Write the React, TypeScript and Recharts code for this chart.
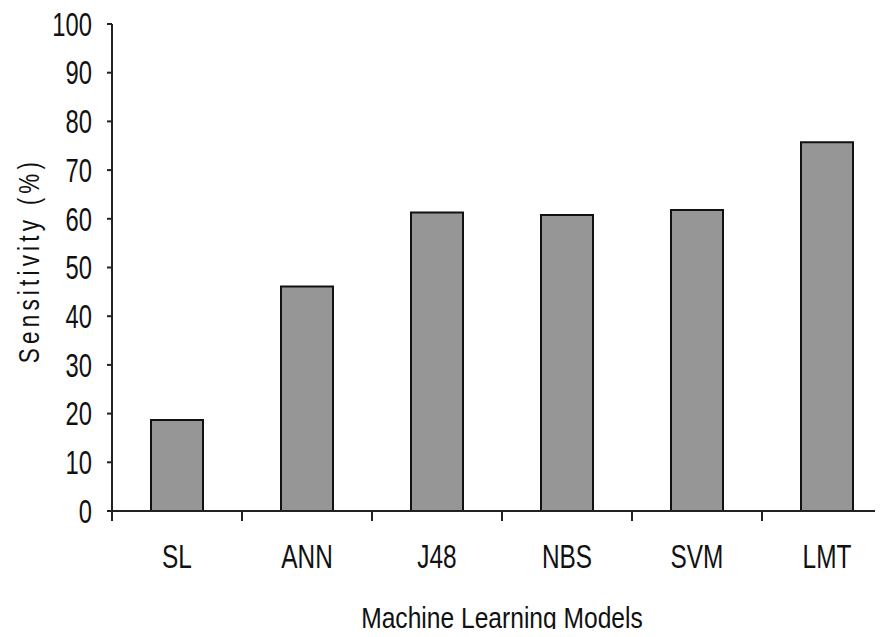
import React from 'react';
import { BarChart, Bar, XAxis, YAxis } from 'recharts';

const models = ['SL', 'ANN', 'J48', 'NBS', 'SVM', 'LMT'];
const sensitivity = [18.7, 46.1, 61.3, 60.8, 61.8, 75.7];
const yTicks = [0, 10, 20, 30, 40, 50, 60, 70, 80, 90, 100];

const data = models.map((name, i) => ({ name, sensitivity: sensitivity[i] }));

// no narrow font installed, so squeeze Liberation Sans horizontally
const FONT = '"Liberation Sans", Arial, sans-serif';
const X_TICK_SIZE = 10;
const X_TICK_MARGIN = 24;

function NarrowText({ x, y, anchor, size, squeeze, children, dy, spacing }: any) {
  return (
    <g transform={`translate(${x}, ${y}) scale(${squeeze}, 1)`}>
      <text
        x={0}
        y={0}
        dy={dy}
        textAnchor={anchor}
        fill="#111"
        fontSize={size}
        fontFamily={FONT}
        letterSpacing={spacing}
      >
        {children}
      </text>
    </g>
  );
}

function CategoryTick(props: any) {
  const { x, y, payload } = props;
  const half = payload.offset || 0;
  const axisY = y - X_TICK_MARGIN - X_TICK_SIZE;
  return (
    <g>
      <line x1={x - half} x2={x - half} y1={axisY} y2={axisY + X_TICK_SIZE} stroke="#222" strokeWidth={2} />
      <NarrowText x={x} y={y} dy="0.71em" anchor="middle" size={33} squeeze={0.74}>
        {payload.value}
      </NarrowText>
    </g>
  );
}

function ValueTick(props: any) {
  const { x, y, payload } = props;
  return (
    <NarrowText x={x} y={y} dy="0.355em" anchor="end" size={33} squeeze={0.72}>
      {payload.value}
    </NarrowText>
  );
}

function YTitle(props: any) {
  const { viewBox } = props;
  const cx = viewBox.x + 29;
  const cy = viewBox.y + viewBox.height / 2 - 7;
  return (
    <g transform={`translate(${cx}, ${cy}) rotate(-90) scale(0.75, 1)`}>
      <text
        x={0}
        y={0}
        textAnchor="middle"
        dominantBaseline="central"
        fill="#111"
        fontSize={30}
        letterSpacing={5.6}
        fontFamily={FONT}
      >
        Sensitivity (%)
      </text>
    </g>
  );
}

function XTitle(props: any) {
  const { viewBox } = props;
  return (
    <NarrowText x={viewBox.x + viewBox.width / 2} y={viewBox.y + 117} anchor="middle" size={30} squeeze={0.82}>
      Machine Learning Models
    </NarrowText>
  );
}

export default function App() {
  return (
    <div style={{ width: 883, height: 637, overflow: 'hidden', margin: -8, background: '#fff', position: 'relative' }}>
      <BarChart
        width={900}
        height={637}
        data={data}
        margin={{ top: 24, right: 8, bottom: 0, left: 0 }}
        barCategoryGap="30%"
      >
        <XAxis
          dataKey="name"
          height={126}
          axisLine={{ stroke: '#222', strokeWidth: 2 }}
          tickLine={false}
          tickSize={X_TICK_SIZE}
          tickMargin={X_TICK_MARGIN}
          tick={<CategoryTick />}
          interval={0}
          label={<XTitle />}
        />
        <YAxis
          width={112}
          domain={[0, 100]}
          ticks={yTicks}
          interval={0}
          axisLine={{ stroke: '#222', strokeWidth: 2 }}
          tickLine={{ stroke: '#222', strokeWidth: 2 }}
          tickSize={5}
          tickMargin={15}
          tick={<ValueTick />}
          label={<YTitle />}
        />
        <Bar
          dataKey="sensitivity"
          fill="#969696"
          stroke="#111"
          strokeWidth={2}
          isAnimationActive={false}
        />
      </BarChart>
    </div>
  );
}
